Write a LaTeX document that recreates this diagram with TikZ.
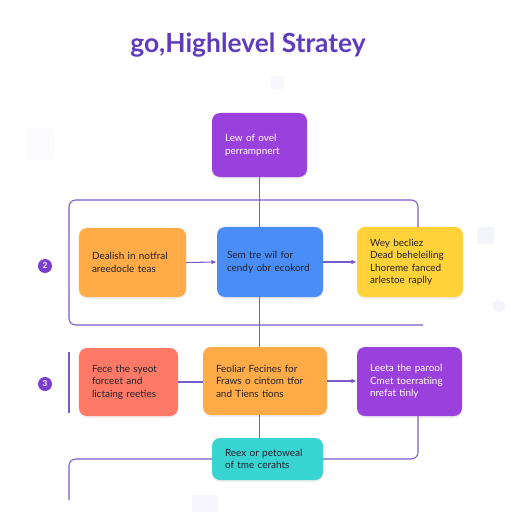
\documentclass[tikz,border=0pt]{standalone}
\usepackage{fontspec}
\setmainfont{Lato}
\usetikzlibrary{arrows.meta,shadows}
\definecolor{ttl}{HTML}{5E3CBC}
\definecolor{ln}{HTML}{7A5CC8}
\definecolor{txt}{HTML}{24222F}
\definecolor{cpurple}{HTML}{9A40DC}
\definecolor{corange}{HTML}{FFAB47}
\definecolor{cblue}{HTML}{4A8DF6}
\definecolor{cyellow}{HTML}{FFD23A}
\definecolor{cred}{HTML}{FF7A66}
\definecolor{cteal}{HTML}{38D4D2}
\definecolor{cbadge}{HTML}{7B3FD0}
\definecolor{faint}{HTML}{F4F4FB}
\begin{document}
\begin{tikzpicture}[x=0.03cm,y=-0.03cm,
 card/.style={rounded corners=0.24cm, inner xsep=0.39cm, inner ysep=2pt, align=left,
   font=\fontsize{8.5}{10.6}\selectfont, text=txt,
   drop shadow={shadow xshift=0pt, shadow yshift=-1.6pt, opacity=0.13}},
 link/.style={draw=ln, line width=0.9pt, rounded corners=0.2cm},
 arr/.style={link, -{Latex[length=4.5pt,width=4pt]}},
 badge/.style={circle, fill=cbadge, text=white, inner sep=0pt, minimum size=0.42cm,
   font=\bfseries\fontsize{7}{7}\selectfont},
]
\fill[white] (0,0) rectangle (512,512);
\useasboundingbox (0,0) rectangle (512,512);
% faint background decorations
\fill[faint, rounded corners=1pt] (477,227) rectangle (494,244);
\fill[faint] (499,306) circle (6);
\fill[faint!70] (271,76) rectangle (284,89);
\fill[faint!35, rounded corners=2pt] (26,128) rectangle (54,160);
\fill[faint!80] (192,495) rectangle (218,512);

\node[font=\bfseries\fontsize{22.5}{26}\selectfont, text=ttl] (title) at (248,45) {go,Highlevel Stratey};

\node[card, fill=cpurple, text=white, text width=2.07cm, minimum height=1.92cm] (top) at (259.5,145) {Lew of ovel\\ perrampnert};
\node[card, fill=corange, text width=2.43cm, minimum height=2.07cm] (o1) at (132.5,262.5) {Dealish in notfral\\ areedocle teas};
\node[card, fill=cblue, inner xsep=0.3cm, text width=2.58cm, minimum height=2.10cm] (blue) at (270,262) {Sem tre wil for\\ cendy obr ecokord};
\node[card, fill=cyellow, text width=2.40cm, minimum height=2.10cm] (yellow) at (410,262) {Wey becliez\\ Dead beheleiling\\ Lhoreme fanced\\ arlestoe raplly};
\node[card, fill=cred, text width=2.19cm, minimum height=2.04cm] (red) at (128.5,382) {Fece the syeot\\ forceet and\\ lictaing reeties};
\node[card, fill=corange, text width=2.94cm, minimum height=2.04cm] (o2) at (265,381) {Feoliar Fecines for\\ Fraws o cintom tfor\\ and Tiens tions};
\node[card, fill=cpurple, text=white, text width=2.37cm, minimum height=2.07cm] (p2) at (409.5,381.5) {Leeta the parool\\ Cmet toerratiing\\ nrefat tinly};
\node[card, fill=cteal, text width=2.55cm, minimum height=1.26cm] (teal) at (267.5,459) {Reex or petoweal\\ of tme cerahts};

\node[badge] (b1) at (45,266) {2};
\node[badge] (b2) at (45,384) {3};

% frame
\coordinate (ytop) at (418,227);
\coordinate (fTR) at (418,200);
\coordinate (fTL) at (69,200);
\coordinate (fBL) at (69,325);
\coordinate (fBR) at (423,325);
\draw[link] (ytop) -- (fTR) -- (fTL) -- (fBL) -- (fBR);

% spine
\draw[link] (top.south) -- (top.south |- blue.north);
\draw[link] (top.south |- blue.south) -- (top.south |- o2.north);
\draw[link] (top.south |- o2.south) -- (top.south |- teal.north);

% row arrows
\draw[arr] (o1.east) -- (blue.west);
\draw[arr] (blue.east) -- (yellow.west);
\draw[link] (red.east) -- (red.east -| o2.west);
\draw[arr] (o2.east) -- (o2.east -| p2.west);

% lower connectors
\draw[link] ([xshift=0.255cm]p2.south) |- (teal.east);
\coordinate (tl) at (69,500);
\draw[link] (teal.west) -| (tl);
\coordinate (ls1) at (69,352);
\coordinate (ls2) at (69,413);
\draw[link] (ls1) -- (ls2);
\end{tikzpicture}
\end{document}
